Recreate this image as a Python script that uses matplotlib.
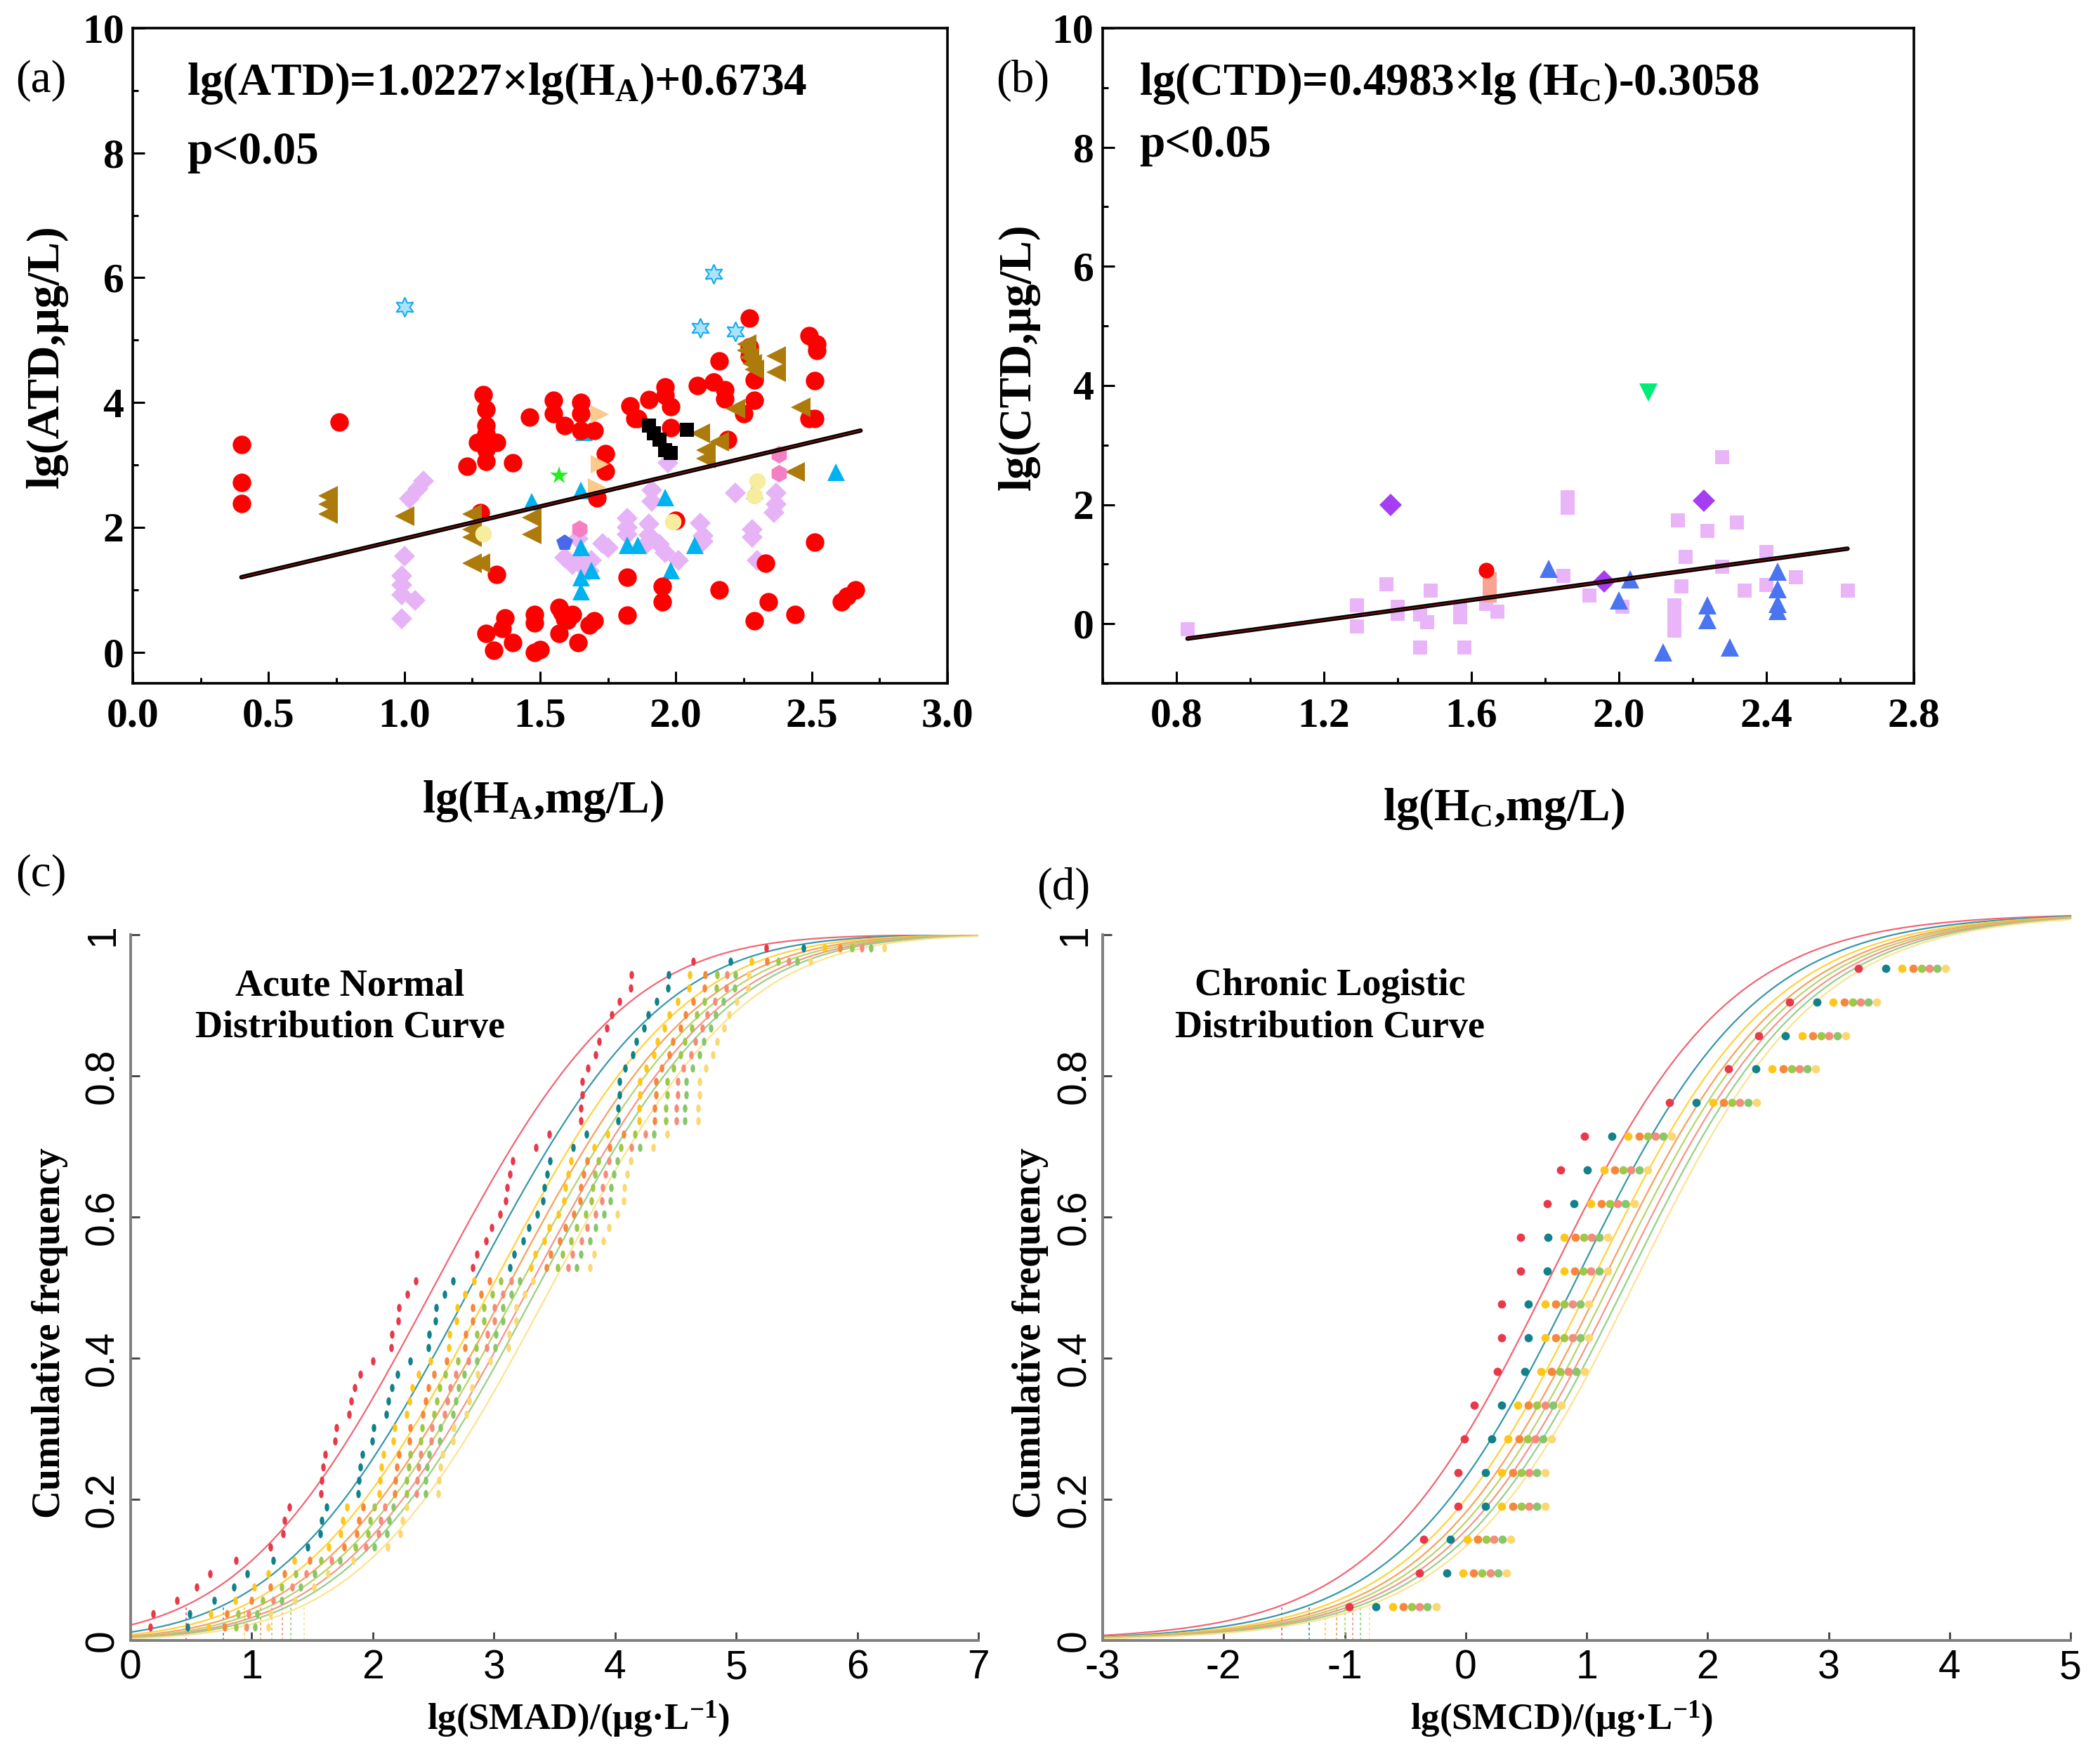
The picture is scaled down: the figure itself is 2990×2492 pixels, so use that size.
import math
import numpy as np
import matplotlib
matplotlib.use("Agg")
import matplotlib.pyplot as plt
from matplotlib.markers import MarkerStyle
from matplotlib.transforms import Affine2D
from matplotlib.ticker import MultipleLocator, FormatStrFormatter, FuncFormatter

W, H = 2990, 2492

plt.rcParams["font.family"] = ["Liberation Serif", "DejaVu Serif"]
plt.rcParams["mathtext.fontset"] = "custom"
plt.rcParams["mathtext.rm"] = "Liberation Serif"
plt.rcParams["mathtext.bf"] = "Liberation Serif:bold"
plt.rcParams["mathtext.it"] = "Liberation Serif:italic"
plt.rcParams["axes.unicode_minus"] = False

# ---------------- panel (a): lg(ATD) vs lg(HA) ----------------
a_red_x = [0.40, 0.40, 0.40, 0.76, 1.29, 1.30, 1.30, 1.30, 1.27, 1.34, 1.30, 1.30, 1.23, 1.40, 1.34, 1.28,
           1.46, 1.55, 1.55, 1.65, 1.65, 1.59, 1.65, 1.70, 1.74, 1.74, 1.71,
           1.30, 1.33, 1.36, 1.37, 1.40, 1.48, 1.48, 1.48, 1.50, 1.58, 1.57, 1.60, 1.62, 1.64, 1.68, 1.70, 1.57, 1.59,
           1.83, 1.86, 1.90, 1.96, 1.96, 1.98, 1.98, 2.08, 2.14, 2.16, 2.18, 2.18, 2.27, 2.27, 2.27, 2.25, 2.29, 2.29, 2.19,
           1.82, 1.85, 1.82, 1.95, 1.95, 2.00, 2.16, 2.29, 2.34, 2.44, 2.51, 2.33,
           2.49, 2.52, 2.52, 2.51, 2.49, 2.51, 2.61, 2.63, 2.66]
a_red_y = [3.33, 2.72, 2.38, 3.69, 4.13, 3.89, 3.63, 3.50, 3.36, 3.36, 3.25, 3.06, 2.98, 3.03, 1.24, 2.24,
           3.76, 4.04, 3.82, 4.00, 3.82, 3.63, 3.55, 3.55, 3.18, 2.90, 2.47,
           0.30, 0.03, 0.38, 0.55, 0.15, 0.60, 0.47, 0.00, 0.04, 0.64, 0.30, 0.51, 0.60, 0.15, 0.43, 0.50, 0.72, 0.53,
           3.95, 3.74, 4.05, 4.25, 4.11, 3.93, 3.60, 4.27, 4.33, 4.67, 4.20, 4.06, 5.35, 4.89, 4.75, 3.82, 4.36, 4.04, 3.40,
           1.20, 3.74, 0.59, 1.05, 0.81, 2.11, 1.00, 0.50, 0.80, 0.60, 1.76, 1.43,
           5.07, 4.94, 4.83, 4.35, 3.74, 3.74, 0.81, 0.90, 1.00]

a_brown_x = [0.72, 0.72, 0.72, 1.00, 1.25, 1.25, 1.25, 1.25, 1.28, 1.47, 1.47,
             2.26, 2.26, 2.27, 2.28, 2.29, 2.37, 2.37, 2.22, 2.46, 2.09, 2.16, 2.11, 2.11, 2.44]
a_brown_y = [2.51, 2.37, 2.21, 2.18, 2.21, 1.97, 1.84, 1.43, 1.43, 2.16, 1.89,
             4.94, 4.83, 4.72, 4.62, 4.53, 4.75, 4.48, 3.90, 3.92, 3.51, 3.37, 3.24, 3.10, 2.89]

a_peach_x = [1.72, 1.72, 1.71]
a_peach_y = [3.81, 3.01, 2.64]

a_cyan_x = [1.66, 1.65, 1.47, 1.96, 1.65, 1.82, 1.86, 2.07, 1.98, 1.65, 1.65, 1.69, 2.59, 2.29]
a_cyan_y = [3.53, 2.60, 2.42, 2.48, 1.68, 1.72, 1.72, 1.72, 1.31, 1.20, 0.97, 1.31, 2.89, 2.60]

a_lilac_x = [1.07, 1.05, 1.02, 1.00, 0.99, 0.99, 0.99, 1.04, 0.99,
             1.97, 1.91, 1.91, 1.82, 1.82, 1.82, 1.73, 1.75, 1.64, 1.59, 1.64, 1.69, 1.66, 1.90, 1.90,
             1.89, 1.94, 1.96, 2.01, 2.09, 2.10, 2.10, 2.22, 2.37, 2.37, 2.36, 2.28, 2.28, 2.30, 1.62, 1.68]
a_lilac_y = [2.74, 2.62, 2.46, 1.54, 1.22, 1.07, 0.92, 0.83, 0.53,
             3.03, 2.60, 2.41, 2.14, 2.00, 1.89, 1.74, 1.67, 1.82, 1.52, 1.45, 1.47, 1.36, 2.05, 1.87,
             1.73, 1.73, 1.59, 1.47, 2.07, 1.86, 1.77, 2.55, 2.55, 2.37, 2.23, 1.96, 1.84, 1.47, 1.40, 1.30]

a_pink_x = [1.645, 2.38, 2.38]
a_pink_y = [1.98, 3.17, 2.87]

a_blue_x = [1.59]
a_blue_y = [1.75]

a_cream_x = [1.29, 1.99, 2.30, 2.29]
a_cream_y = [1.90, 2.09, 2.74, 2.51]

a_black_x = [1.90, 1.92, 1.94, 1.96, 1.98, 2.04]
a_black_y = [3.63, 3.51, 3.40, 3.24, 3.19, 3.56]

a_star_x = [1.00, 2.14, 2.09, 2.22]
a_star_y = [5.53, 6.06, 5.19, 5.14]

a_green_x = [1.57]
a_green_y = [2.83]

a_fit_x = [0.40, 2.68]
a_fit_y = [1.20, 3.55]

# ---------------- panel (b): lg(CTD) vs lg(HC) ----------------
b_lilac_x = [0.83, 1.29, 1.29, 1.37, 1.40, 1.40, 1.46, 1.46, 1.48, 1.49, 1.57, 1.57, 1.58, 1.64, 1.67,
             1.86, 1.86, 1.85, 1.92, 2.01, 2.16, 2.18, 2.17, 2.15, 2.15, 2.15, 2.15, 2.24, 2.28, 2.28,
             2.32, 2.34, 2.40, 2.40, 2.48, 2.62]
b_lilac_y = [-0.09, 0.31, -0.05, 0.66, 0.29, 0.17, 0.15, -0.40, 0.02, 0.56, 0.24, 0.11, -0.40, 0.33, 0.20,
             2.13, 1.95, 0.80, 0.47, 0.29, 1.74, 1.12, 0.63, 0.31, 0.15, 0.02, -0.12, 1.56, 2.80, 0.96,
             1.70, 0.56, 1.21, 0.65, 0.78, 0.56]
b_salmon_x = [1.65, 1.65, 1.65]
b_salmon_y = [0.75, 0.60, 0.47]
b_red_x = [1.64]
b_red_y = [0.90]
b_purple_x = [1.38, 2.23, 1.96]
b_purple_y = [1.99, 2.06, 0.71]
b_blue_x = [1.81, 2.03, 2.00, 2.12, 2.24, 2.24, 2.30, 2.43, 2.43, 2.43, 2.43]
b_blue_y = [0.92, 0.75, 0.39, -0.48, 0.31, 0.06, -0.40, 0.87, 0.58, 0.33, 0.22]
b_green_x = [2.08]
b_green_y = [3.88]

b_fit_x = [0.83, 2.62]
b_fit_y = [-0.25, 1.26]

# ---------------- panels (c), (d): species sensitivity curves ----------------
ssd_dot_colors = ["#e8394a", "#12818a", "#ffc61a", "#f7873c", "#9ec848", "#f48c7c", "#88c66c", "#fbd873"]
ssd_line_colors = ["#f06575", "#3597aa", "#ffd23c", "#f6a15c", "#b7d46c", "#f3968a", "#96d086", "#fde291"]

# (c) acute: lowest-series x of each rank, plus x offset of each further series
c_base = [0.165, 0.183, 0.385, 0.543, 0.658, 0.869, 1.153, 1.256, 1.272, 1.309, 1.573, 1.577, 1.589,
          1.605, 1.690, 1.699, 1.802, 1.823, 1.848, 1.896, 1.999, 2.150, 2.155, 2.212, 2.215, 2.283,
          2.354, 2.823, 2.860, 2.934, 2.979, 3.051, 3.099, 3.109, 3.131, 3.157, 3.345, 3.459, 3.717,
          3.717, 3.727, 3.727, 3.777, 3.838, 3.870, 3.930, 3.970, 4.035, 4.130, 4.135, 4.645, 5.250]
c_freq = [(i + 1) / 53 for i in range(52)]
c_shift = [0.0, 0.307, 0.48, 0.61, 0.705, 0.79, 0.86, 0.97]
c_mu, c_sigma = 2.50, 1.24

# (d) chronic
d_base = [-0.965, -0.383, -0.349, -0.060, -0.060, -0.008, 0.070, 0.262, 0.296, 0.296, 0.452, 0.455,
          0.672, 0.783, 0.983, 1.683, 2.175, 2.420, 2.680, 3.249]
d_freq = [(i + 1) / 21 for i in range(20)]
d_shift = [0.0, 0.225, 0.36, 0.45, 0.52, 0.585, 0.65, 0.72]
d_mid, d_scale, d_top = 0.70, 0.745, 1.03

TICK_SANS = ["Liberation Sans Narrow", "Liberation Sans", "DejaVu Sans"]


def fx(px):
    return px / W


def fy(py):
    return 1 - py / H


def scatter_axes(ax, xlim, ylim, xmaj, xmin):
    ax.set_xlim(*xlim)
    ax.set_ylim(*ylim)
    ax.xaxis.set_major_locator(MultipleLocator(xmaj))
    ax.xaxis.set_minor_locator(MultipleLocator(xmin))
    ax.yaxis.set_major_locator(MultipleLocator(2))
    ax.yaxis.set_minor_locator(MultipleLocator(1))
    ax.xaxis.set_major_formatter(FormatStrFormatter("%.1f"))
    ax.yaxis.set_major_formatter(FormatStrFormatter("%d"))
    ax.tick_params(which="both", direction="in", width=2.2, colors="black")
    ax.tick_params(which="major", length=12)
    ax.tick_params(which="minor", length=6)
    ax.tick_params(axis="x", pad=15)
    ax.tick_params(axis="y", pad=9)
    for sp in ax.spines.values():
        sp.set_linewidth(2.6)
    for lab in ax.get_xticklabels() + ax.get_yticklabels():
        lab.set_fontweight("bold")
        lab.set_fontsize(43)


def pts(ax, xs, ys, marker, ms, fc, ec="none", z=3, mew=0):
    ax.plot(xs, ys, ls="none", marker=marker, ms=ms, mfc=fc, mec=ec, mew=mew, zorder=z)


def fit_line(ax, xs, ys):
    ax.plot(xs, ys, color="black", lw=4.5, solid_capstyle="round", zorder=10)
    ax.plot(xs, ys, color="#7a1010", lw=1.2, zorder=11)


def ssd_axes(ax, xlim, xticks):
    ax.set_xlim(*xlim)
    ax.set_ylim(0, 1)
    ax.set_xticks(xticks)
    ax.set_yticks([0, 0.2, 0.4, 0.6, 0.8, 1.0])
    ax.yaxis.set_major_formatter(FuncFormatter(lambda v, _: f"{v:g}"))
    ax.xaxis.set_major_formatter(FuncFormatter(lambda v, _: f"{v:g}"))
    for side in ("top", "right"):
        ax.spines[side].set_visible(False)
    for side in ("left", "bottom"):
        ax.spines[side].set_linewidth(2.8)
        ax.spines[side].set_color("#7f7f7f")
    ax.tick_params(direction="in", length=9, width=2, color="#404040", pad=9)
    ax.tick_params(axis="y", labelrotation=90)
    for lab in ax.get_xticklabels() + ax.get_yticklabels():
        lab.set_fontfamily(TICK_SANS)
        lab.set_fontsize(41)
    for lab in ax.get_yticklabels():
        lab.set_va("center")


fig = plt.figure(figsize=(W / 100, H / 100), dpi=100)

# ---- (a)
axa = fig.add_axes([fx(189), fy(973), fx(1349) - fx(189), fy(40) - fy(973)])
pts(axa, a_lilac_x, a_lilac_y, "D", 15, "#e6b3f6", z=2)
pts(axa, a_cyan_x, a_cyan_y, "^", 18, "#00b2ef", z=3)
pts(axa, a_red_x, a_red_y, "o", 19, "#ff0000", z=4)
pts(axa, a_brown_x, a_brown_y, "<", 20, "#ad7a0c", z=5)
pts(axa, a_peach_x, a_peach_y, ">", 19, "#fdc98c", z=5)
pts(axa, a_pink_x, a_pink_y, "h", 18, "#f57fc2", z=5)
pts(axa, a_blue_x, a_blue_y, "p", 18, "#4868ee", z=5)
pts(axa, a_cream_x, a_cream_y, "o", 17, "#f8ec9e", z=6)
pts(axa, a_black_x, a_black_y, "s", 15, "#000000", z=6)
pts(axa, a_star_x, a_star_y, (6, 1, 0), 20, "#a9e4fb", ec="#18a8ee", z=6, mew=1.5)
pts(axa, a_green_x, a_green_y, "*", 19, "#22ee22", z=6)
fit_line(axa, a_fit_x, a_fit_y)
scatter_axes(axa, (0, 3), (-0.5, 10), 0.5, 0.25)

# ---- (b)
axb = fig.add_axes([fx(1570), fy(973), fx(2725) - fx(1570), fy(40) - fy(973)])
pts(axb, b_lilac_x, b_lilac_y, "s", 15, "#e9b4f8", z=2)
pts(axb, b_salmon_x, b_salmon_y, "s", 15, "#f9a395", z=3)
pts(axb, b_red_x, b_red_y, "o", 16, "#ff0000", z=4)
pts(axb, b_purple_x, b_purple_y, "D", 16, "#a43ef0", z=4)
pts(axb, b_blue_x, b_blue_y, "^", 19, "#4a74f0", z=4)
pts(axb, b_green_x, b_green_y, "v", 19, "#00ee77", z=4)
fit_line(axb, b_fit_x, b_fit_y)
scatter_axes(axb, (0.6, 2.8), (-1, 10), 0.4, 0.2)

# ---- (c)
axc = fig.add_axes([fx(186), fy(2336), fx(1393) - fx(186), fy(1331) - fy(2336)])
xc = np.linspace(0, 7, 400)
oval = MarkerStyle("o", transform=Affine2D().scale(0.55, 1.0))
for k, sh in enumerate(c_shift):
    mu = c_mu + sh
    yc = [0.5 * (1 + math.erf((v - mu) / (c_sigma * math.sqrt(2)))) for v in xc]
    axc.plot(xc, yc, color=ssd_line_colors[k], lw=1.6, zorder=2)
    hc5 = mu - 1.645 * c_sigma
    axc.plot([hc5, hc5], [0, 0.05], color=ssd_line_colors[k], lw=1.3, ls=(0, (2, 2)), zorder=2)
    axc.plot([b + sh for b in c_base], c_freq, ls="none", marker=oval, ms=8.5,
             mfc=ssd_dot_colors[k], mec="none", zorder=3)
ssd_axes(axc, (0, 7), range(0, 8))

# ---- (d)
axd = fig.add_axes([fx(1570), fy(2336), fx(2948) - fx(1570), fy(1331) - fy(2336)])
xd = np.linspace(-3, 5, 400)
for k, sh in enumerate(d_shift):
    m = d_mid + sh
    yd = d_top / (1 + np.exp(-(xd - m) / d_scale))
    axd.plot(xd, yd, color=ssd_line_colors[k], lw=1.6, zorder=2, clip_on=False)
    hc5 = m - d_scale * math.log(d_top / 0.05 - 1)
    axd.plot([hc5, hc5], [0, 0.05], color=ssd_line_colors[k], lw=1.3, ls=(0, (2, 2)), zorder=2)
    axd.plot([b + sh for b in d_base], d_freq, ls="none", marker="o", ms=8.5,
             mfc=ssd_dot_colors[k], mec="none", zorder=3)
ssd_axes(axd, (-3, 5), range(-3, 6))

# ---- texts
bold = dict(fontweight="bold", family=["Liberation Serif", "DejaVu Serif"])
fig.text(fx(22), fy(115), "(a)", fontsize=47, va="center", ha="left")
fig.text(fx(1418), fy(115), "(b)", fontsize=47, va="center", ha="left")
fig.text(fx(22), fy(1246), "(c)", fontsize=47, va="center", ha="left")
fig.text(fx(1476), fy(1265), "(d)", fontsize=47, va="center", ha="left")

fig.text(fx(266), fy(119), r"lg(ATD)=1.0227×lg($\mathbf{H_A}$)+0.6734", fontsize=47,
         va="center", ha="left", **bold)
fig.text(fx(266), fy(217), "p<0.05", fontsize=47, va="center", ha="left", **bold)
fig.text(fx(1622), fy(119), r"lg(CTD)=0.4983×lg ($\mathbf{H_C}$)-0.3058", fontsize=47,
         va="center", ha="left", **bold)
fig.text(fx(1622), fy(207), "p<0.05", fontsize=47, va="center", ha="left", **bold)

fig.text(fx(67), fy(508), "lg(ATD,μg/L)", fontsize=47, rotation=90, va="center", ha="center", **bold)
fig.text(fx(1451), fy(508), "lg(CTD,μg/L)", fontsize=47, rotation=90, va="center", ha="center", **bold)
fig.text(fx(773), fy(1141), r"lg($\mathbf{H_A}$,mg/L)", fontsize=47, va="center", ha="center", **bold)
fig.text(fx(2141), fy(1152), r"lg($\mathbf{H_C}$,mg/L)", fontsize=47, va="center", ha="center", **bold)

fig.text(fx(71), fy(1898), "Cumulative frequency", fontsize=40, rotation=90, va="center", ha="center", **bold)
fig.text(fx(1467), fy(1898), "Cumulative frequency", fontsize=40, rotation=90, va="center", ha="center", **bold)
fig.text(fx(824), fy(2448), r"lg(SMAD)/(μg·L$^{\mathbf{-1}}$)", fontsize=38, va="center", ha="center", **bold)
fig.text(fx(2224), fy(2448), r"lg(SMCD)/(μg·L$^{\mathbf{-1}}$)", fontsize=38, va="center", ha="center", **bold)

fig.text(fx(498), fy(1434), "Acute Normal\nDistribution Curve", fontsize=39, va="center", ha="center",
         linespacing=1.25, **bold)
fig.text(fx(1894), fy(1434), "Chronic Logistic\nDistribution Curve", fontsize=39, va="center", ha="center",
         linespacing=1.25, **bold)

fig.savefig("out.png", dpi=100)
